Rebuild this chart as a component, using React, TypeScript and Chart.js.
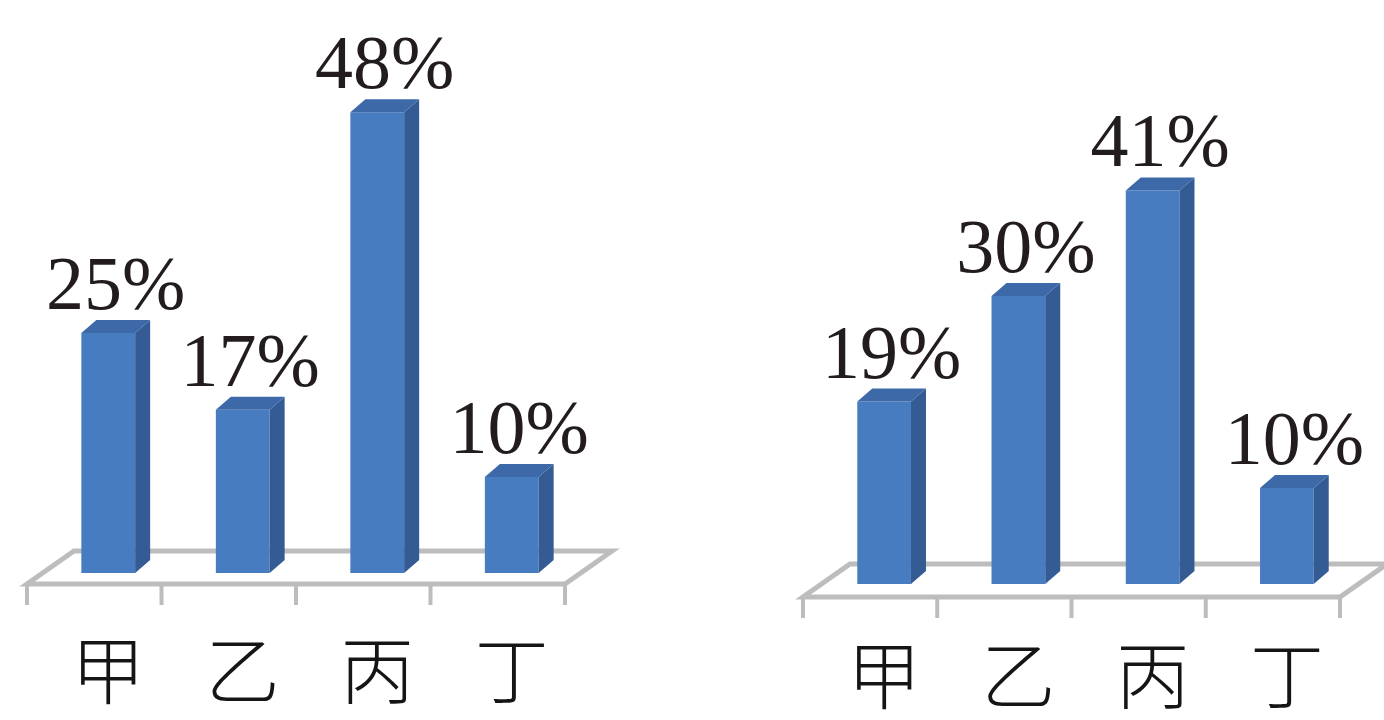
import React, { useEffect, useRef } from 'react';
import { Chart, registerables } from 'chart.js';

Chart.register(...registerables);

const categories = ['甲', '乙', '丙', '丁'];
const leftValues = [25, 17, 48, 10];
const rightValues = [19, 30, 41, 10];
const yMax = 55;

const FRONT = '#487cc0';
const SIDE = '#345b94';
const TOP = '#3d69a8';
const FLOOR = '#bdbdbd';

const bar3d = {
  id: 'bar3d',
  beforeDatasetsDraw(chart: any, _args: any, opts: any) {
    const { ctx, chartArea } = chart;
    const xs = chart.scales.x;
    const n = chart.data.labels.length;
    const catW = (chartArea.right - chartArea.left) / n;
    const frontY = chartArea.bottom + opts.floorFront;
    const fx0 = chartArea.left - opts.shift;
    const fx1 = chartArea.right - opts.shift;
    const ddx = opts.floorDx;
    const ddy = opts.floorDy;
    ctx.save();
    ctx.strokeStyle = FLOOR;
    ctx.lineWidth = 5;
    ctx.lineJoin = 'miter';
    ctx.fillStyle = '#ffffff';
    ctx.beginPath();
    ctx.moveTo(fx0, frontY);
    ctx.lineTo(fx1, frontY);
    ctx.lineTo(fx1 + ddx, frontY + ddy);
    ctx.lineTo(fx0 + ddx, frontY + ddy);
    ctx.closePath();
    ctx.fill();
    ctx.stroke();
    ctx.lineWidth = 4;
    for (let i = 0; i <= n; i++) {
      const x = xs.getPixelForValue(0) - catW / 2 + i * catW - opts.shift;
      ctx.beginPath();
      ctx.moveTo(x, frontY);
      ctx.lineTo(x, frontY + opts.tickLen);
      ctx.stroke();
    }
    ctx.restore();
  },
  afterDatasetsDraw(chart: any, _args: any, opts: any) {
    const { ctx } = chart;
    const meta = chart.getDatasetMeta(0);
    const values = chart.data.datasets[0].data;
    const dx = opts.dx;
    const dy = opts.dy;
    ctx.save();
    meta.data.forEach((el: any, i: number) => {
      const { x, y, base, width } = el.getProps(['x', 'y', 'base', 'width'], true);
      const l = x - width / 2;
      const r = x + width / 2;
      ctx.fillStyle = SIDE;
      ctx.beginPath();
      ctx.moveTo(r, y);
      ctx.lineTo(r + dx, y + dy);
      ctx.lineTo(r + dx, base + dy);
      ctx.lineTo(r, base);
      ctx.closePath();
      ctx.fill();
      ctx.fillStyle = TOP;
      ctx.beginPath();
      ctx.moveTo(l, y);
      ctx.lineTo(l + dx, y + dy);
      ctx.lineTo(r + dx, y + dy);
      ctx.lineTo(r, y);
      ctx.closePath();
      ctx.fill();
      ctx.fillStyle = '#231c1e';
      ctx.font = '76px "Liberation Serif", "Times New Roman", serif';
      ctx.textAlign = 'center';
      ctx.textBaseline = 'alphabetic';
      ctx.fillText(values[i] + '%', x + dx / 2, y - 24);
    });
    ctx.restore();
  },
};

type PanelProps = {
  values: number[];
  canvasLeft: number;
  areaLeft: number;
  areaRight: number;
  bottom: number;
  floorFront: number;
  labelPad: number;
};

function BarPanel({ values, canvasLeft, areaLeft, areaRight, bottom, floorFront, labelPad }: PanelProps) {
  const ref = useRef<HTMLCanvasElement>(null);
  useEffect(() => {
    if (!ref.current) return;
    const W = 692;
    const H = 720;
    const pxPer = 9.6;
    const top = bottom - pxPer * yMax;
    const chart = new Chart(ref.current, {
      type: 'bar',
      data: {
        labels: categories,
        datasets: [
          {
            data: values,
            backgroundColor: FRONT,
            borderWidth: 0,
            categoryPercentage: 1,
            barPercentage: 0.4,
          },
        ],
      },
      options: {
        responsive: false,
        animation: false,
        devicePixelRatio: 1,
        layout: { padding: { left: areaLeft, right: W - areaRight, top, bottom: 0 } },
        plugins: {
          legend: { display: false },
          tooltip: { enabled: false },
          bar3d: {
            dx: 15,
            dy: -13,
            shift: 14,
            floorFront,
            floorDx: 47,
            floorDy: -33,
            tickLen: 21,
          },
        } as any,
        scales: {
          x: {
            grid: { display: false, drawTicks: false },
            border: { display: false },
            ticks: {
              color: '#151515',
              font: { family: '"Noto Sans CJK SC", sans-serif', size: 74, weight: '300' as any },
              padding: labelPad,
            },
            afterFit: (scale: any) => {
              scale.height = H - bottom;
            },
          },
          y: {
            display: false,
            min: 0,
            max: yMax,
          },
        },
      },
      plugins: [bar3d],
    });
    return () => chart.destroy();
  }, []);
  return (
    <canvas
      ref={ref}
      width={692}
      height={720}
      style={{ position: 'absolute', left: canvasLeft, top: 0, width: 692, height: 720 }}
    />
  );
}

export default function App() {
  return (
    <div style={{ position: 'fixed', left: 0, top: 0, width: 1384, height: 720, background: '#ffffff', overflow: 'hidden' }}>
      <BarPanel values={leftValues} canvasLeft={0} areaLeft={41} areaRight={579} bottom={573} floorFront={11} labelPad={52} />
      <BarPanel values={rightValues} canvasLeft={692} areaLeft={125} areaRight={662} bottom={584} floorFront={13} labelPad={46} />
    </div>
  );
}
